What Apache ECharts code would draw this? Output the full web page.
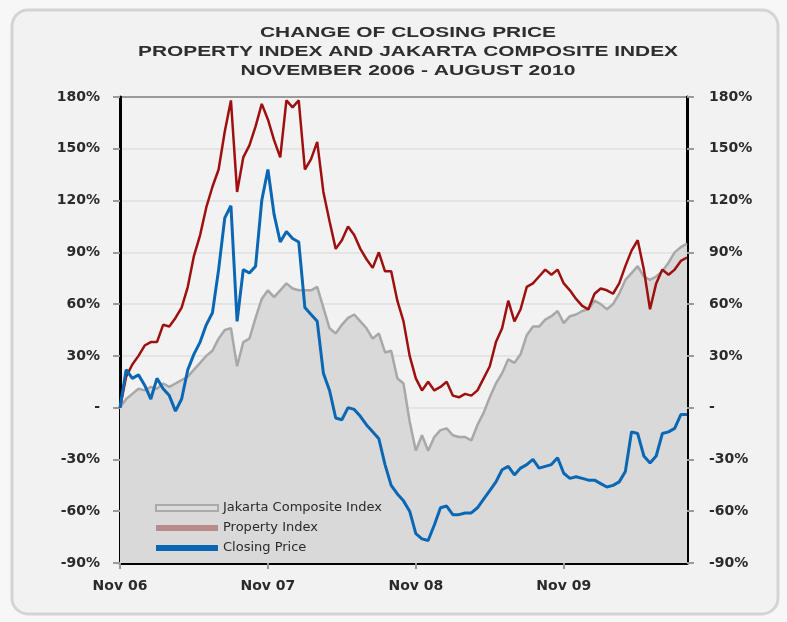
<!DOCTYPE html>
<html><head><meta charset="utf-8">
<script src="https://cdn.jsdelivr.net/npm/echarts@6/dist/echarts.min.js"></script>
<style>html,body{margin:0;padding:0;background:#f7f7f7;}#c{width:787px;height:622px;}</style>
</head><body><div id="c"></div>
<script>
// ---------- data ----------
const titleLines = ['CHANGE OF CLOSING PRICE', 'PROPERTY INDEX AND JAKARTA COMPOSITE INDEX', 'NOVEMBER 2006 - AUGUST 2010'];
const tickLabels = ['Nov 06', 'Nov 07', 'Nov 08', 'Nov 09'];
const seriesNames = ['Jakarta Composite Index', 'Property Index', 'Closing Price'];
const monthNames = ['Jan','Feb','Mar','Apr','May','Jun','Jul','Aug','Sep','Oct','Nov','Dec'];

// half-monthly readings, Nov 2006 -> Aug 2010 (% change)
const jakartaComposite = [
  0,5,8,11,10,12,11,14,12,14,
  16,18,22,26,30,33,40,45,46,24,
  38,40,52,63,68,64,68,72,69,68,
  68,68,70,58,46,43,48,52,54,50,
  46,40,43,32,33,17,14,-8,-25,-16,
  -25,-17,-13,-12,-16,-17,-17,-19,-10,-3,
  6,14,20,28,26,31,42,47,47,51,
  53,56,49,53,54,56,57,62,60,57,
  60,66,74,78,82,76,74,76,79,84,
  90,93,95
];
const propertyIndex = [
  0,18,25,30,36,38,38,48,47,52,
  58,70,88,100,116,128,138,160,178,125,
  145,152,163,176,167,155,145,178,174,178,
  138,144,154,125,108,92,97,105,100,92,
  86,81,90,79,79,62,50,30,17,10,
  15,10,12,15,7,6,8,7,10,17,
  24,38,46,62,50,57,70,72,76,80,
  77,80,72,68,63,59,57,66,69,68,
  66,72,82,91,97,80,57,72,80,77,
  80,85,87
];
const closingPrice = [
  0,22,17,19,13,5,17,11,7,-2,
  5,22,31,38,48,55,80,110,117,50,
  80,78,82,120,138,112,96,102,98,96,
  58,54,50,20,10,-6,-7,0,-1,-5,
  -10,-14,-18,-33,-45,-50,-54,-60,-73,-76,
  -77,-68,-58,-57,-62,-62,-61,-61,-58,-53,
  -48,-43,-36,-34,-39,-35,-33,-30,-35,-34,
  -33,-29,-38,-41,-40,-41,-42,-42,-44,-46,
  -45,-43,-37,-14,-15,-28,-32,-28,-15,-14,
  -12,-4,-4
];

// half-month category labels starting Nov 2006
const categories = jakartaComposite.map((_, i) => {
  const m = 10 + Math.floor(i / 2);
  return monthNames[m % 12] + ' ' + String(2006 + Math.floor(m / 12)).slice(2) + (i % 2 ? ' (mid)' : '');
});

// ---------- chart ----------
const chart = echarts.init(document.getElementById('c'), null, {renderer: 'canvas'});
const ctx = document.createElement('canvas').getContext('2d');
const titleFont = 'bold 14px "Liberation Sans"';
ctx.font = titleFont;
const titleWidths = [296, 540, 335];
const titleY = [33, 52, 71];

const yFmt = v => (v === 0 ? '-' : v + '%');
const gridColors = ['#e4e4e4','#e4e4e4','#e4e4e4','#e4e4e4','#e4e4e4','#e4e4e4','#e4e4e4','#e4e4e4','#e4e4e4','#9a9a9a'];
const labelStyle = {color: '#2a2a2a', fontFamily: 'DejaVu Sans', fontWeight: 'bold', fontSize: 14};

const yAxisBase = {
  type: 'value', min: -90, max: 180, interval: 30,
  axisLine: {show: true, lineStyle: {color: '#000', width: 3}},
  axisTick: {show: true, length: 7, lineStyle: {color: '#9a9a9a', width: 2}},
};

chart.setOption({
  backgroundColor: 'transparent',
  animation: false,
  graphic: [
    {type: 'rect', z: -100, silent: true,
     shape: {x: 12, y: 10, width: 766, height: 604, r: 16},
     style: {fill: '#f2f2f2', stroke: '#d4d4d4', lineWidth: 3}},
    ...titleLines.map((t, i) => ({
      type: 'text', x: 408, y: titleY[i], silent: true,
      scaleX: titleWidths[i] / ctx.measureText(t).width,
      style: {text: t, font: titleFont, fill: '#2e2e2e', align: 'center', verticalAlign: 'middle', textAlign: 'center', textVerticalAlign: 'middle'}
    }))
  ],
  grid: {left: 120, right: 100, top: 97, bottom: 59, containLabel: false},
  legend: {
    left: 155, top: 501, orient: 'vertical', padding: 0,
    itemWidth: 62, itemHeight: 6, itemGap: 6,
    textStyle: {fontFamily: 'DejaVu Sans', fontSize: 13, color: '#2a2a2a', lineHeight: 14},
    data: [
      {name: seriesNames[0], icon: 'rect', itemStyle: {color: '#dcdcdc', borderColor: '#aaaaaa', borderWidth: 2}},
      {name: seriesNames[1], icon: 'rect', itemStyle: {color: '#b98a8a'}},
      {name: seriesNames[2], icon: 'rect', itemStyle: {color: '#0a67b4'}}
    ]
  },
  xAxis: {
    type: 'category', data: categories, boundaryGap: false,
    axisLine: {onZero: false, lineStyle: {color: '#000', width: 3}},
    axisTick: {show: true, interval: i => i % 24 === 0, length: 6, lineStyle: {color: '#9a9a9a', width: 2}},
    axisLabel: Object.assign({interval: i => i % 24 === 0, formatter: (v, i) => tickLabels[i / 24] || '', margin: 16}, labelStyle),
    splitLine: {show: false}
  },
  yAxis: [
    Object.assign({}, yAxisBase, {
      position: 'left',
      axisLabel: Object.assign({formatter: yFmt, margin: 20}, labelStyle),
      splitLine: {show: true, lineStyle: {color: gridColors, width: 2}}
    }),
    Object.assign({}, yAxisBase, {
      position: 'right',
      axisLabel: Object.assign({formatter: yFmt, margin: 22}, labelStyle),
      splitLine: {show: false}
    })
  ],
  series: [
    {name: seriesNames[0], type: 'line', data: jakartaComposite, symbol: 'none', z: 2,
     lineStyle: {color: '#a8a8a8', width: 2.5}, itemStyle: {color: '#a8a8a8'},
     areaStyle: {color: '#d9d9d9', opacity: 1, origin: 'start'}},
    {name: seriesNames[1], type: 'line', data: propertyIndex, symbol: 'none', z: 3,
     lineStyle: {color: '#9e1010', width: 2.5}, itemStyle: {color: '#9e1010'}},
    {name: seriesNames[2], type: 'line', data: closingPrice, symbol: 'none', z: 4,
     lineStyle: {color: '#0a67b4', width: 3}, itemStyle: {color: '#0a67b4'}}
  ]
});
</script>
</body></html>
